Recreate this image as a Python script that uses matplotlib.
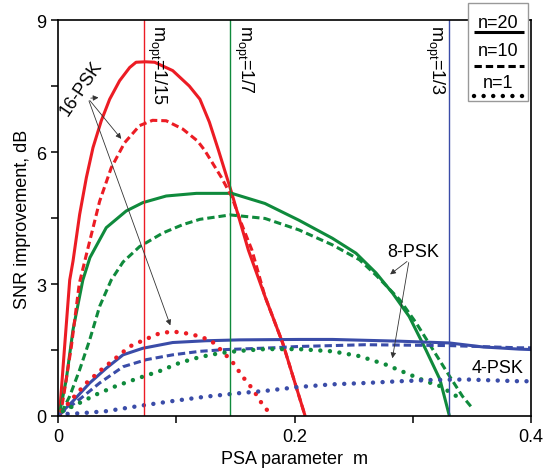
import matplotlib
matplotlib.use('Agg')
import matplotlib.pyplot as plt
from matplotlib.lines import Line2D
from matplotlib.patches import Rectangle

plt.rcParams['font.family'] = ['Liberation Sans', 'DejaVu Sans']

RED = '#ec1c24'
GREEN = '#0f8a3c'
BLUE = '#3a4ca8'

# 16-PSK
r20_x = [0.0014, 0.0056, 0.0099, 0.0127, 0.0183, 0.024, 0.0296, 0.0366, 0.0437, 0.0521, 0.0606,
         0.066, 0.074, 0.0817, 0.097, 0.111, 0.12, 0.128, 0.1357, 0.147, 0.161, 0.175, 0.19, 0.209]
r20_y = [0.08, 1.58, 3.09, 3.52, 4.58, 5.42, 6.10, 6.71, 7.2, 7.62, 7.92,
         8.04, 8.05, 8.04, 7.85, 7.5, 7.2, 6.68, 6.04, 5.06, 3.77, 2.72, 1.66, 0.0]
r10_x = [0.002, 0.0056, 0.0113, 0.018, 0.024, 0.0352, 0.045, 0.0563, 0.069, 0.080, 0.0915,
         0.1056, 0.118, 0.124, 0.138, 0.147, 0.155, 0.164, 0.175, 0.19, 0.209]
r10_y = [0.0, 0.6, 1.58, 3.01, 3.67, 4.88, 5.64, 6.21, 6.6, 6.72, 6.71,
         6.52, 6.25, 6.04, 5.43, 4.98, 4.38, 3.77, 2.72, 1.66, 0.0]
r1_x = [0.003, 0.0127, 0.024, 0.0366, 0.049, 0.0606, 0.0746, 0.0859, 0.0972, 0.108, 0.12,
        0.13, 0.139, 0.148, 0.156, 0.165, 0.172, 0.179]
r1_y = [0.11, 0.41, 0.75, 1.05, 1.32, 1.58, 1.75, 1.88, 1.92, 1.88, 1.81,
        1.7, 1.47, 1.21, 0.9, 0.6, 0.3, 0.06]

# 8-PSK
g20_x = [0.0014, 0.007, 0.0127, 0.021, 0.027, 0.0408, 0.0577, 0.0718, 0.0915, 0.117, 0.147,
         0.175, 0.2037, 0.232, 0.252, 0.269, 0.283, 0.297, 0.311, 0.323, 0.331]
g20_y = [0.075, 0.83, 1.96, 3.09, 3.6, 4.28, 4.66, 4.85, 5.0, 5.06, 5.06,
         4.83, 4.45, 4.04, 3.7, 3.25, 2.79, 2.26, 1.51, 0.83, 0.0]
g10_x = [0.003, 0.0099, 0.0183, 0.0268, 0.0352, 0.045, 0.055, 0.069, 0.0887, 0.1056, 0.12,
         0.1456, 0.175, 0.2037, 0.232, 0.255, 0.269, 0.289, 0.303, 0.317, 0.331, 0.342, 0.35]
g10_y = [0.075, 0.45, 1.05, 1.73, 2.49, 3.09, 3.5, 3.85, 4.16, 4.35, 4.47,
         4.57, 4.49, 4.23, 3.89, 3.55, 3.2, 2.64, 2.11, 1.51, 0.91, 0.45, 0.19]
g1_x = [0.004, 0.0155, 0.0324, 0.049, 0.069, 0.0859, 0.103, 0.12, 0.137, 0.1535, 0.175,
        0.2037, 0.232, 0.255, 0.277, 0.294, 0.311, 0.323, 0.337]
g1_y = [0.11, 0.26, 0.49, 0.68, 0.87, 1.02, 1.21, 1.34, 1.43, 1.48, 1.52,
        1.52, 1.47, 1.36, 1.17, 0.98, 0.79, 0.68, 0.45]

# 4-PSK
b20_x = [0.0014, 0.0127, 0.0268, 0.041, 0.055, 0.0718, 0.097, 0.125, 0.1535, 0.204, 0.232,
         0.289, 0.331, 0.359, 0.39, 0.4]
b20_y = [0.04, 0.34, 0.75, 1.09, 1.39, 1.54, 1.67, 1.71, 1.73, 1.74, 1.74,
         1.70, 1.66, 1.57, 1.52, 1.51]
b10_x = [0.0014, 0.0183, 0.0352, 0.055, 0.0746, 0.097, 0.12, 0.142, 0.182, 0.2037, 0.26,
         0.331, 0.39, 0.4]
b10_y = [0.04, 0.38, 0.75, 1.12, 1.28, 1.39, 1.47, 1.51, 1.55, 1.58, 1.62,
         1.6, 1.55, 1.55]
b1_x = [0.0, 0.018, 0.041, 0.069, 0.097, 0.125, 0.1535, 0.175, 0.2037, 0.232, 0.26,
        0.289, 0.317, 0.345, 0.39, 0.4]
b1_y = [0.04, 0.06, 0.11, 0.23, 0.34, 0.44, 0.52, 0.57, 0.66, 0.72, 0.75,
        0.79, 0.82, 0.83, 0.79, 0.79]

m_opt = [0.0724, 0.1458, 0.331]
m_opt_labels = ['1/15', '1/7', '1/3']

fig = plt.figure(figsize=(5.45, 4.77), dpi=100)
ax = fig.add_axes([58 / 545, 60 / 477, 473 / 545, 396 / 477])

solid = dict(lw=2.2, ls='-', solid_capstyle='butt')
dashed = dict(lw=2.2, ls=(0, (2.4, 1.3)))
dotted = dict(lw=3.2, ls=(0, (0.01, 2.15)), dash_capstyle='round')

for c, xs, ys in [(RED, r20_x, r20_y), (GREEN, g20_x, g20_y), (BLUE, b20_x, b20_y)]:
    ax.plot(xs, ys, color=c, **solid)
for c, xs, ys in [(RED, r10_x, r10_y), (GREEN, g10_x, g10_y), (BLUE, b10_x, b10_y)]:
    ax.plot(xs, ys, color=c, **dashed)
for c, xs, ys in [(RED, r1_x, r1_y), (GREEN, g1_x, g1_y), (BLUE, b1_x, b1_y)]:
    ax.plot(xs, ys, color=c, **dotted)

# optimum lines
for c, xv, lab, dx, ha in zip([RED, GREEN, BLUE], m_opt, m_opt_labels,
                              [0.0015, 0.0015, -0.003], ['left', 'left', 'right']):
    ax.axvline(xv, color=c, lw=1.0)
    ax.text(xv + dx, 8.92, r'm$_{\mathregular{opt}}$=' + lab, rotation=-90,
            ha=ha, va='top', fontsize=13)

ax.set_xlim(0, 0.4)
ax.set_ylim(0, 9)
ax.set_xticks([0, 0.2, 0.4])
ax.set_xticklabels(['0', '0.2', '0.4'])
ax.set_xticks([0.1, 0.3], minor=True)
ax.set_yticks([0, 3, 6, 9])
ax.set_yticks([1.5, 4.5, 7.5], minor=True)
ax.tick_params(which='both', direction='out', length=5, width=1.1, labelsize=13,
               top=False, right=False)
for s in ax.spines.values():
    s.set_linewidth(1.2)
ax.set_xlabel('PSA parameter  m', fontsize=13)
ax.set_ylabel('SNR improvement, dB', fontsize=13)

# annotations
ax.text(0.0197, 7.45, '16-PSK', rotation=56, ha='center', va='center', fontsize=13)
arrow = dict(arrowstyle='-|>', color='#333333', lw=0.6, mutation_scale=8)
for tgt in [(0.0366, 7.24), (0.055, 6.25), (0.0958, 2.0)]:
    ax.annotate('', xy=tgt, xytext=(0.0254, 7.22), arrowprops=arrow)
ax.text(0.3, 3.74, '8-PSK', ha='center', va='center', fontsize=13)
for tgt in [(0.279, 3.18), (0.2824, 1.25)]:
    ax.annotate('', xy=tgt, xytext=(0.297, 3.55), arrowprops=arrow)
ax.text(0.372, 1.1, '4-PSK', ha='center', va='center', fontsize=13)

# legend box
fig.patches.append(Rectangle((468 / 545, 1 - 102 / 477), 60 / 545, 98 / 477,
                             transform=fig.transFigure, facecolor='white',
                             edgecolor='#999999', lw=1.0, zorder=5))
leg = [('n=20', solid, 23, 33), ('n=10', dashed, 52, 67), ('n=1', dotted, 83, 97)]
for lab, st, ytxt, yline in leg:
    fig.text(498 / 545, 1 - ytxt / 477, lab, ha='center', va='center', fontsize=13, zorder=6)
    yl = 1 - yline / 477
    fig.lines.append(Line2D([474 / 545, 524 / 545], [yl, yl], transform=fig.transFigure,
                            color='black', zorder=6, **st))

fig.savefig('out.png', dpi=100)
